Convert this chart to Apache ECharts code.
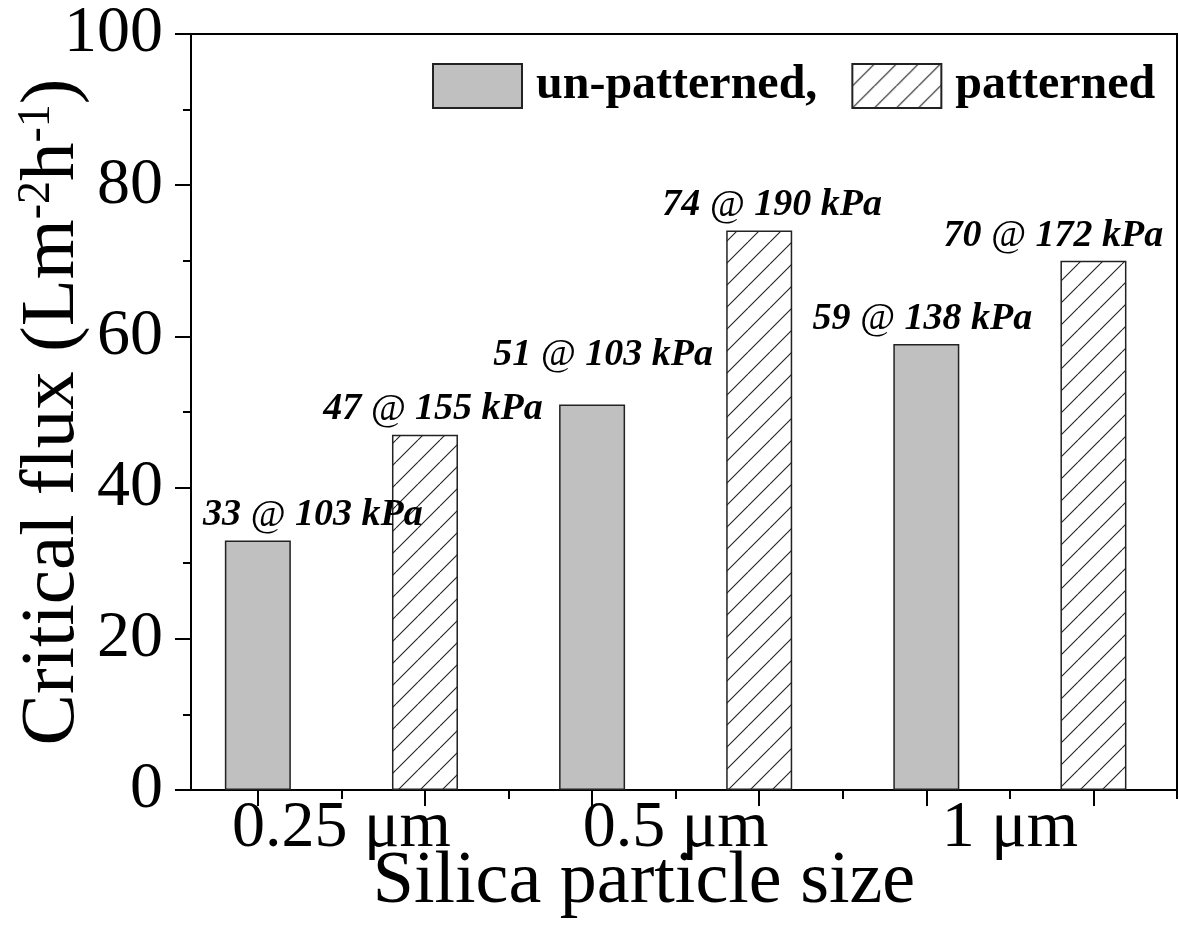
<!DOCTYPE html>
<html>
<head>
<meta charset="utf-8">
<script src="https://cdn.jsdelivr.net/npm/echarts@6/dist/echarts.min.js"></script>
<style>
html,body{margin:0;padding:0;background:#fff;}
#chart{width:1179px;height:930px;}
</style>
</head>
<body>
<div id="chart"></div>
<script>
// ---- data ----
const categories = ['0.25 \u03bcm', '0.5 \u03bcm', '1 \u03bcm'];
const seriesNames = ['un-patterned', 'patterned'];
const unpatternedFlux = [33, 51, 59];
const patternedFlux = [47, 74, 70];
const unpatternedPressure = [103, 103, 138];
const patternedPressure = [155, 190, 172];
const yTicks = [0, 20, 40, 60, 80, 100];

// ---- layout tweaks for labels (pixels) ----
const unpatLabelShift = [[55, 0], [11, -24], [-4, 0]];
const patLabelShift = [[8, 0], [13, 0], [-40, 0]];

function hatchCanvas() {
  const w = 22, h = 22;
  const c = document.createElement('canvas');
  c.width = w; c.height = h;
  const g = c.getContext('2d');
  g.fillStyle = '#fff';
  g.fillRect(0, 0, w, h);
  g.strokeStyle = '#222';
  g.lineWidth = 1.1;
  g.beginPath();
  [-w, 0, w].forEach(o => { g.moveTo(o, h); g.lineTo(o + w, 0); });
  g.stroke();
  return c;
}
const hatch = { image: hatchCanvas(), repeat: 'repeat' };

const serif = 'Liberation Serif, Times New Roman, serif';
const labelRich = {
  b: { fontFamily: serif, fontWeight: 'bold', fontStyle: 'italic', fontSize: 38, color: '#000' },
  a: { fontFamily: serif, fontWeight: 'normal', fontStyle: 'italic', fontSize: 38, color: '#000' }
};

function buildData(vals, press, pos0, shifts) {
  return vals.map((v, i) => ({
    value: [4 * i + pos0, v],
    pressure: press[i],
    label: { offset: shifts[i] }
  }));
}
function labelFmt(p) {
  return '{b|' + p.value[1] + ' }{a|@}{b| ' + p.data.pressure + ' kPa}';
}

const chart = echarts.init(document.getElementById('chart'), null, { renderer: 'canvas' });
const axisLine = { show: true, lineStyle: { color: '#000', width: 2 } };

chart.setOption({
  animation: false,
  backgroundColor: '#fff',
  grid: { left: 191, right: 2, top: 34, bottom: 140, show: true, borderColor: '#000', borderWidth: 2,
          containLabel: false, outerBoundsMode: 'none' },
  legend: {
    left: 432, top: 62, padding: 0,
    itemWidth: 89, itemHeight: 44, itemGap: 34,
    icon: 'rect',
    data: seriesNames,
    textStyle: { fontFamily: serif, fontWeight: 'bold', fontSize: 48, color: '#000', padding: [0, 0, 0, 9] },
    formatter: n => (n === seriesNames[0] ? n + ',' : n)
  },
  xAxis: [{
    type: 'value', min: 0.2, max: 12,
    axisLine: axisLine,
    splitLine: { show: false },
    axisTick: { show: true, customValues: [1, 3, 5, 7, 9, 11], length: 16, lineStyle: { color: '#000', width: 2 } },
    axisLabel: {
      show: true, customValues: categories.map((c, i) => 4 * i + 2),
      formatter: v => categories[Math.round((v - 2) / 4)],
      fontFamily: serif, fontSize: 66, color: '#000', margin: 6
    },
    name: 'Silica particle size', nameLocation: 'middle', nameGap: 56, nameMoveOverlap: false,
    nameTextStyle: { fontFamily: serif, fontSize: 74, color: '#000', padding: [0, 80, 0, 0] }
  }, {
    type: 'value', min: 0.2, max: 12, position: 'bottom', offset: 0,
    axisLine: { show: false }, splitLine: { show: false },
    axisLabel: { show: false },
    axisTick: { show: true, customValues: [2, 4, 6, 8, 10, 12], length: 9, lineStyle: { color: '#000', width: 2 } }
  }],
  yAxis: {
    type: 'value', min: yTicks[0], max: yTicks[yTicks.length - 1], interval: 20,
    axisLine: axisLine,
    splitLine: { show: false },
    axisTick: { show: true, length: 16, lineStyle: { color: '#000', width: 2 } },
    minorTick: { show: true, splitNumber: 2, length: 8, lineStyle: { color: '#000', width: 2 } },
    axisLabel: { fontFamily: serif, fontSize: 66, color: '#000', margin: 28 },
    name: '{t|Critical flux (Lm}{s|-2}{t|h}{s|-1}{t|)}',
    nameLocation: 'middle', nameGap: 100, nameRotate: 90, nameMoveOverlap: false,
    nameTextStyle: {
      rich: {
        t: { fontFamily: serif, fontSize: 77, color: '#000' },
        s: { fontFamily: serif, fontSize: 46, color: '#000', verticalAlign: 'top' }
      }
    }
  },
  series: [{
    name: seriesNames[0], type: 'bar', xAxisIndex: 0,
    barWidth: 66, barGap: '-100%',
    itemStyle: { color: '#c0c0c0', borderColor: '#222', borderWidth: 1.5 },
    data: buildData(unpatternedFlux, unpatternedPressure, 1, unpatLabelShift),
    label: { show: true, position: 'top', distance: 6, formatter: labelFmt, rich: labelRich }
  }, {
    name: seriesNames[1], type: 'bar', xAxisIndex: 0,
    barWidth: 66, barGap: '-100%',
    itemStyle: { color: hatch, borderColor: '#222', borderWidth: 1.5 },
    data: buildData(patternedFlux, patternedPressure, 3, patLabelShift),
    label: { show: true, position: 'top', distance: 6, formatter: labelFmt, rich: labelRich }
  }]
});
</script>
</body>
</html>
